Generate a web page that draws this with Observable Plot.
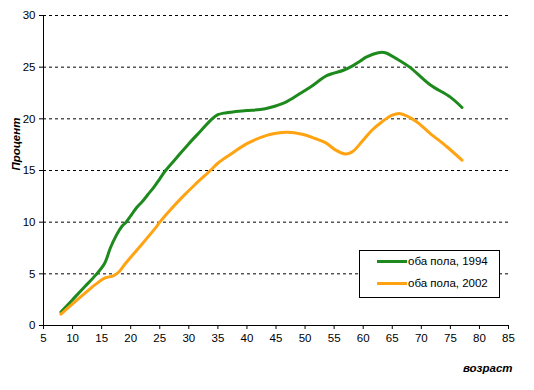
<!DOCTYPE html>
<html>
<head>
<meta charset="utf-8">
<script src="https://cdn.jsdelivr.net/npm/d3@7"></script>
<script src="https://cdn.jsdelivr.net/npm/@observablehq/plot@0.6"></script>
<style>
  body { margin: 0; background: #fff; }
  #wrap { position: relative; width: 534px; height: 390px; font-family: Arial, "Liberation Sans", sans-serif; }
  #legend { position: absolute; left: 359px; top: 250px; width: 139px; height: 46px; border: 1px solid #000; background: #fff; font-size: 11.5px; }
  .item { position: absolute; left: 17px; display: flex; align-items: center; }
  .sw { width: 30px; height: 3px; margin-right: 1px; }
</style>
</head>
<body>
<div id="wrap"></div>
<script>
const seriesNames = ["оба пола, 1994", "оба пола, 2002"];
const colors = ["#1e8a1e", "#ffa312"];

const age1994 = [8, 10, 12, 14, 15.5, 16.5, 17.5, 18.5, 19.2, 20, 21, 22, 23, 24, 25, 26, 28, 30, 32, 34, 35, 36, 38, 40, 42.3, 44, 46.6, 49, 51, 53.8, 56.6, 58.1, 59.5, 60.6, 62.6, 63.8, 65.8, 68, 71.5, 75, 77];
const val1994 = [1.3, 2.5, 3.7, 4.9, 6.0, 7.5, 8.7, 9.6, 10.0, 10.6, 11.4, 12.0, 12.7, 13.4, 14.2, 15.0, 16.3, 17.6, 18.8, 20.0, 20.4, 20.55, 20.7, 20.8, 20.9, 21.1, 21.6, 22.4, 23.1, 24.2, 24.7, 25.1, 25.6, 26.0, 26.4, 26.4, 25.8, 25.0, 23.3, 22.1, 21.1];

const age2002 = [8, 10, 12.7, 14, 15.6, 17, 18, 19.1, 21.3, 24.2, 25, 27, 29, 31, 33.7, 35, 37, 40, 43.4, 45, 47, 49.5, 51.7, 53.5, 55.2, 56.9, 58.1, 59.8, 61.5, 63.2, 65, 66.4, 69, 71.5, 74.4, 77];
const val2002 = [1.1, 2.1, 3.4, 4.0, 4.6, 4.8, 5.2, 6.0, 7.45, 9.4, 10.0, 11.3, 12.5, 13.6, 15.0, 15.7, 16.5, 17.6, 18.4, 18.6, 18.7, 18.5, 18.1, 17.7, 17.0, 16.6, 16.8, 17.8, 18.9, 19.7, 20.35, 20.5, 19.8, 18.6, 17.3, 16.0];

const xTicks = d3.range(5, 86, 5);
const yTicks = d3.range(0, 31, 5);
const yTitle = "Процент";
const xTitle = "возраст";

const data = [
  ...age1994.map((a, i) => ({age: a, v: val1994[i], s: seriesNames[0]})),
  ...age2002.map((a, i) => ({age: a, v: val2002[i], s: seriesNames[1]}))
];

const chart = Plot.plot({
  width: 534,
  height: 390,
  marginLeft: 43,
  marginRight: 26,
  marginTop: 15,
  marginBottom: 65,
  style: {fontFamily: "Arial, 'Liberation Sans', sans-serif", fontSize: "11.5px", color: "#000", background: "#fff"},
  x: {domain: [5, 85]},
  y: {domain: [0, 30]},
  color: {domain: seriesNames, range: colors},
  marks: [
    Plot.gridY(yTicks.filter(d => d > 0), {stroke: "#000", strokeOpacity: 1, strokeDasharray: "3,3"}),
    Plot.axisY(yTicks, {tickSize: 4, tickPadding: 4, label: null, fill: "#000", stroke: "#000", strokeOpacity: 1}),
    Plot.axisX(xTicks, {tickSize: 4, tickPadding: 4, label: null, fill: "#000", stroke: "#000", strokeOpacity: 1}),
    Plot.ruleX([5], {stroke: "#000"}),
    Plot.ruleY([0], {stroke: "#000"}),
    Plot.line(data, {x: "age", y: "v", z: "s", stroke: "s", strokeWidth: 3, curve: "catmull-rom"}),
    Plot.text([yTitle], {frameAnchor: "left", rotate: -90, dx: -27, fontWeight: "bold", fontStyle: "italic", fontSize: 11.5}),
    Plot.text([xTitle], {frameAnchor: "bottom-right", textAnchor: "end", dy: 46, dx: 4, fontWeight: "bold", fontStyle: "italic", fontSize: 11.5})
  ]
});

const wrap = document.getElementById("wrap");
wrap.appendChild(chart);

const legend = document.createElement("div");
legend.id = "legend";
seriesNames.forEach((name, i) => {
  const it = document.createElement("div");
  it.className = "item";
  it.style.top = (i === 0 ? 4 : 26) + "px";
  const sw = document.createElement("span");
  sw.className = "sw";
  sw.style.background = colors[i];
  const t = document.createElement("span");
  t.textContent = name;
  it.appendChild(sw);
  it.appendChild(t);
  legend.appendChild(it);
});
wrap.appendChild(legend);
</script>
</body>
</html>
